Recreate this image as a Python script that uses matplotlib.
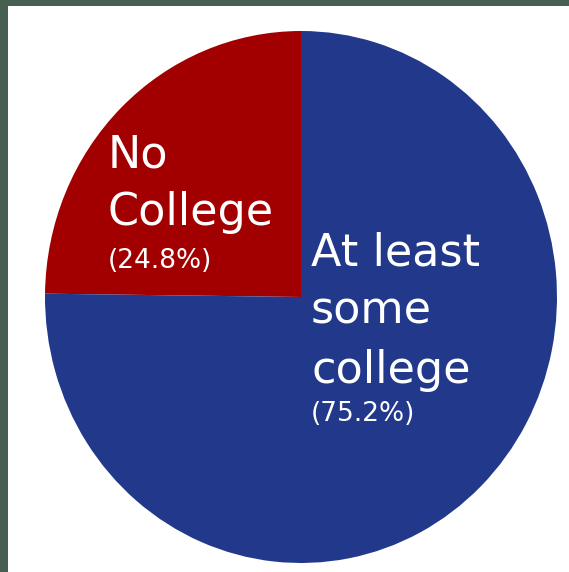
import matplotlib
matplotlib.use("Agg")
import matplotlib.pyplot as plt
from matplotlib.patches import Rectangle

# данные
labels = ["No College", "At least some college"]
values = [24.8, 75.2]
colors = ["#A20000", "#22388A"]

W, H = 569, 572
fig = plt.figure(figsize=(W / 100, H / 100), dpi=100)
fig.patch.set_facecolor("white")

# рамка слева и сверху
fig.patches.append(Rectangle((0, 0), 8 / W, 1, transform=fig.transFigure,
                             facecolor="#465F51", edgecolor="none", zorder=0))
fig.patches.append(Rectangle((0, 1 - 6 / H), 1, 6 / H, transform=fig.transFigure,
                             facecolor="#465F51", edgecolor="none", zorder=0))

# круг чуть вытянут по вертикали, как в оригинале
ax = fig.add_axes([45 / W, (H - 563) / H, 512 / W, 532 / H])
ax.pie(values, colors=colors, startangle=90, counterclock=True,
       wedgeprops=dict(linewidth=0))
ax.set_aspect("auto")
ax.set_xlim(-1, 1)
ax.set_ylim(-1, 1)
ax.axis("off")


def txt(x, y, s, size):
    fig.text(x / W, 1 - y / H, s, color="white", fontsize=size,
             family="DejaVu Sans", ha="left", va="baseline")


# подписи
txt(108, 167, "No", 32)
txt(108, 225, "College", 32)
txt(108, 268, f"({values[0]}%)", 19)

txt(311, 265, "At least", 32)
txt(311, 324, "some", 32)
txt(311, 383, "college", 32)
txt(311, 421, f"({values[1]}%)", 19)

fig.savefig("out.png", dpi=100)
